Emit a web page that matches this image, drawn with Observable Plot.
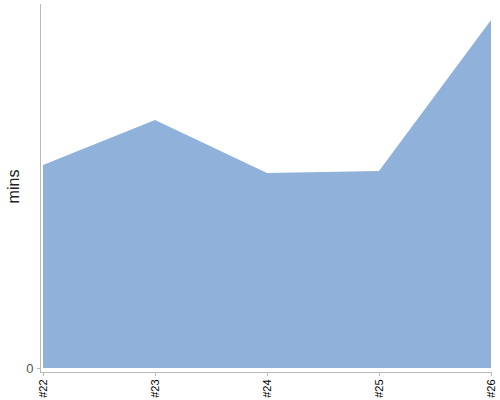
<!DOCTYPE html>
<html>
<head>
<meta charset="utf-8">
<script src="https://cdn.jsdelivr.net/npm/d3@7"></script>
<script src="https://cdn.jsdelivr.net/npm/@observablehq/plot@0.6"></script>
<style>
  html, body { margin: 0; padding: 0; background: #fff; }
  #chart { width: 500px; height: 400px; }
</style>
</head>
<body>
<div id="chart"></div>
<script>
const categories = ["#22", "#23", "#24", "#25", "#26"];
const minsValues = [20.3, 24.8, 19.5, 19.7, 34.8];
const yTicks = [0];
const yMax = 36.4;

const data = categories.map((c, i) => ({ run: c, mins: minsValues[i] }));

const chart = Plot.plot({
  width: 500,
  height: 400,
  marginLeft: 40,
  marginRight: 9,
  marginTop: 4,
  marginBottom: 28,
  style: { fontFamily: "'Liberation Sans', Arial, sans-serif", background: "#fff" },
  x: { type: "point", domain: categories, padding: 0, insetLeft: 3, label: null },
  y: { domain: [0, yMax], insetBottom: 4, label: null },
  marks: [
    Plot.areaY(data, { x: "run", y: "mins", fill: "#8fb1da", curve: "linear" }),
    Plot.frame({ anchor: "left", stroke: "#b8b8b8" }),
    Plot.frame({ anchor: "bottom", stroke: "#b8b8b8" }),
    Plot.axisX({
      tickRotate: -90,
      tickSize: 4,
      tickPadding: 3,
      fontSize: 11,
      stroke: "#b8b8b8",
      fill: "#000",
      label: null
    }),
    Plot.axisY({
      ticks: yTicks,
      tickSize: 3,
      tickPadding: 4,
      fontSize: 13,
      stroke: "#b8b8b8",
      fill: "#555",
      label: null
    }),
    Plot.text(["mins"], {
      frameAnchor: "left",
      textAnchor: "middle",
      dx: -27,
      dy: -2,
      rotate: -90,
      fontSize: 16,
      fill: "#222",
      text: d => d
    })
  ]
});
document.getElementById("chart").appendChild(chart);
</script>
</body>
</html>
